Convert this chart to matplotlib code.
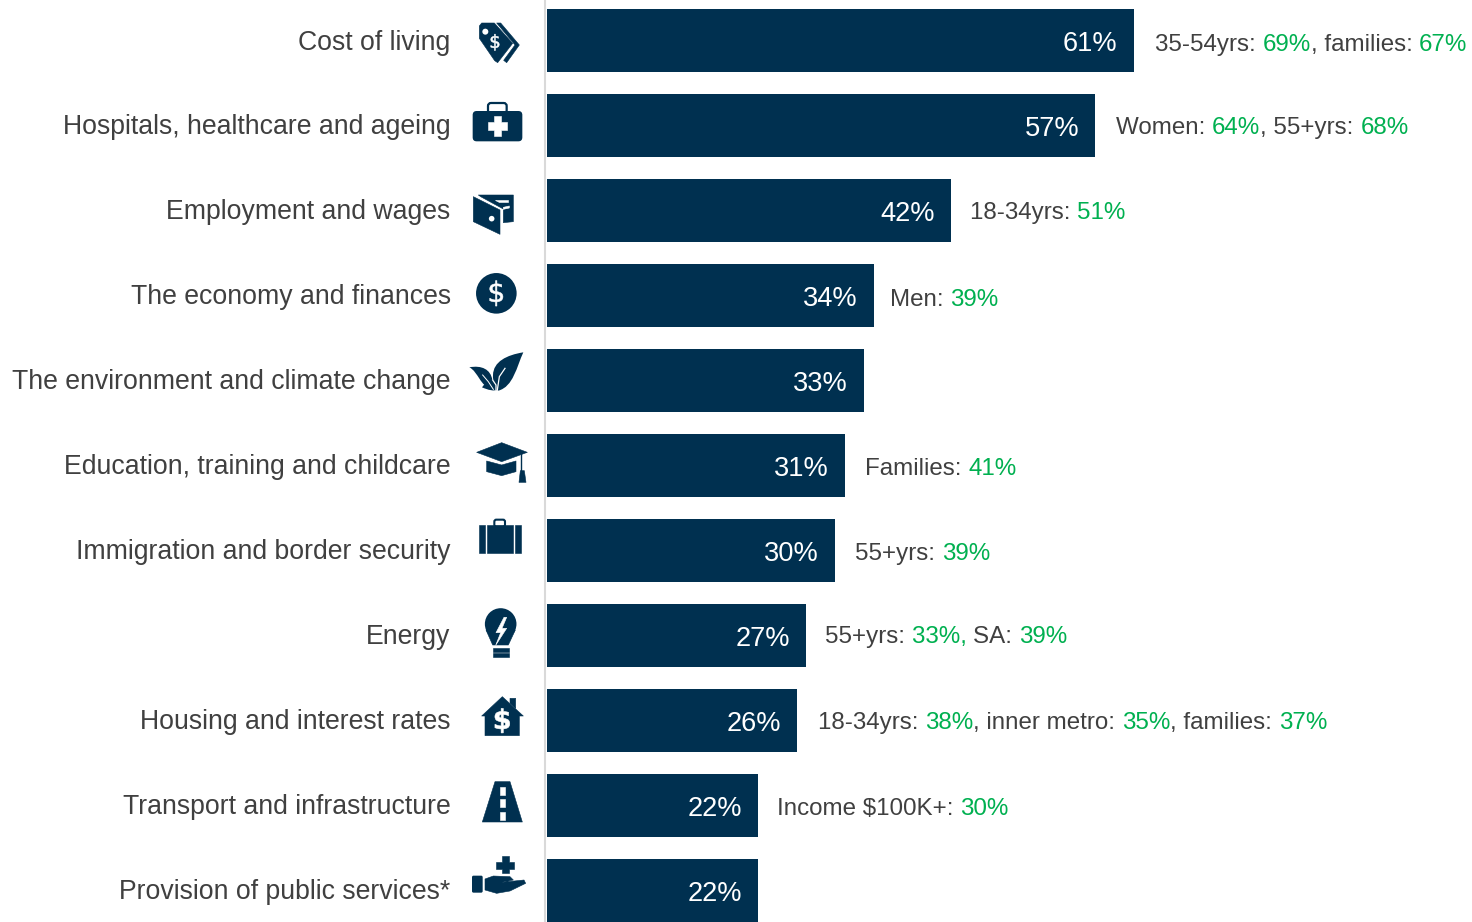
import matplotlib
matplotlib.use("Agg")
import matplotlib.pyplot as plt
from matplotlib.path import Path
from matplotlib.patches import PathPatch, Polygon, Circle, FancyBboxPatch
from matplotlib.textpath import TextPath
from matplotlib.font_manager import FontProperties
from matplotlib.transforms import Affine2D

plt.rcParams['font.family'] = ['Liberation Sans', 'DejaVu Sans']

categories = ["Cost of living", "Hospitals, healthcare and ageing", "Employment and wages",
              "The economy and finances", "The environment and climate change",
              "Education, training and childcare", "Immigration and border security",
              "Energy", "Housing and interest rates", "Transport and infrastructure",
              "Provision of public services*"]
values = [61, 57, 42, 34, 33, 31, 30, 27, 26, 22, 22]
notes = [
    [("35-54yrs: ", 0), ("69%", 1), (", families: ", 0), ("67%", 1)],
    [("Women: ", 0), ("64%", 1), (", 55+yrs: ", 0), ("68%", 1)],
    [("18-34yrs: ", 0), ("51%", 1)],
    [("Men: ", 0), ("39%", 1)],
    [],
    [("Families: ", 0), ("41%", 1)],
    [("55+yrs: ", 0), ("39%", 1)],
    [("55+yrs: ", 0), ("33%, ", 1), ("SA: ", 0), ("39%", 1)],
    [("18-34yrs: ", 0), ("38%", 1), (", inner metro: ", 0), ("35%", 1), (", families: ", 0), ("37%", 1)],
    [("Income $100K+: ", 0), ("30%", 1)],
    [],
]
note_x = [1155, 1116, 970, 890, 0, 865, 855, 825, 818, 777, 0]
note_y = [43, 126, 211, 298, 0, 467, 552, 635, 721, 807, 0]

NAVY = "#003050"
GREY = "#404040"
GREEN = "#00B050"
W, H = 1472, 922
X0 = 546.5
PX_PER_UNIT = 9.625
PITCH = 84.95
FIRST = 41.0

fig = plt.figure(figsize=(W / 100, H / 100), dpi=100, facecolor="white")
ax = fig.add_axes([X0 / W, 0, 1 - X0 / W, 1])
for s in ["top", "right", "bottom"]:
    ax.spines[s].set_visible(False)
ax.spines["left"].set_color("#D9D9D9")
ax.spines["left"].set_linewidth(1.5)
ax.spines["left"].set_position(("outward", 1.0))
ax.set_xlim(0, (W - X0) / PX_PER_UNIT)
ax.set_ylim((H - FIRST) / PITCH, -FIRST / PITCH)
pos = list(range(len(values)))
ax.barh(pos, values, height=63 / PITCH, color=NAVY)
ax.set_xticks([])
ax.set_yticks(pos)
ax.set_yticklabels(categories, fontsize=19.15, color=GREY)
ax.tick_params(axis='y', length=0, pad=68)
for lbl in ax.get_yticklabels():
    lbl.set_transform(lbl.get_transform() + Affine2D().translate(0, 1.5))
ax.patch.set_alpha(0)

for p, v in zip(pos, values):
    ax.annotate(f"{v}%", (v, p), xytext=(-11.6, -2.2), textcoords="offset points",
                ha="right", va="center", color="white", fontsize=19.6)

# overlay in pixel coordinates
ov = fig.add_axes([0, 0, 1, 1], zorder=5)
ov.set_xlim(0, W)
ov.set_ylim(H, 0)
ov.axis("off")

fig.canvas.draw()
rend = fig.canvas.get_renderer()
for segs, nx, ny in zip(notes, note_x, note_y):
    x = nx
    for s, g in segs:
        t = ov.text(x, ny + 2.2, s, fontsize=17.4, va="center", ha="left",
                    color=GREEN if g else GREY, parse_math=False)
        tw, _, _ = rend.get_text_width_height_descent(s, t.get_fontproperties(), False)
        x += tw

# ---------- icons (decorative, pixel geometry from crops) ----------
def Z(ox, oy):
    return lambda pts: [(460 + a / 3, oy + b / 3) for a, b in pts]

def poly(pts, color=NAVY):
    ov.add_patch(Polygon(pts, closed=True, fc=color, ec=color, lw=0.4, joinstyle="round"))

def circ(c, r, color=NAVY):
    ov.add_patch(Circle(c, r, fc=color, ec="none"))

def dollar(cx, cy, size, color="white", family="DejaVu Sans", weight="normal"):
    tp = TextPath((0, 0), r"\$", size=size, prop=FontProperties(family=family, weight=weight))
    bb = tp.get_extents()
    tr = Affine2D().translate(-(bb.x0 + bb.x1) / 2, -(bb.y0 + bb.y1) / 2).scale(1, -1).translate(cx, cy)
    ov.add_patch(PathPatch(tp.transformed(tr), fc=color, ec=color, lw=0.4))

def bezier(pts, color=NAVY):
    codes = [Path.MOVETO] + [Path.CURVE4] * (len(pts) - 1)
    ov.add_patch(PathPatch(Path(pts, codes), fc=color, ec="none"))

def line(pts, color="white", lw=1.0):
    ov.plot([p[0] for p in pts], [p[1] for p in pts], color=color, lw=lw, solid_capstyle="butt")

# tag
z = Z(460, 0)
poly(z([(58, 78), (65, 69), (103, 69), (158, 130), (113, 188), (104, 182), (58, 115)]))
poly(z([(110, 69), (122, 69), (178, 135), (140, 188), (131, 181), (165, 135)]))
circ(z([(76, 95)])[0], 3.0, "white")
dollar(*z([(105, 127)])[0], 18)

# medkit
a, b = z([(38, 333)])[0], z([(187, 424)])[0]
ov.add_patch(FancyBboxPatch((a[0] + 4, a[1] + 4), b[0] - a[0] - 8, b[1] - a[1] - 8,
                            boxstyle="round,pad=4", fc=NAVY, ec="none"))
a, b = z([(84, 309)])[0], z([(140, 340)])[0]
ov.add_patch(FancyBboxPatch((a[0] + 3, a[1] + 3), b[0] - a[0] - 6, b[1] - a[1] - 6,
                            boxstyle="round,pad=3", fc="none", ec=NAVY, lw=1.6))
poly(z([(101, 348), (124, 348), (124, 366), (140, 366), (140, 389), (124, 389), (124, 407),
        (101, 407), (101, 389), (85, 389), (85, 366), (101, 366)]), "white")

# wallet
poly(z([(55, 585), (160, 585), (160, 665), (130, 668), (130, 627), (62, 590)]))
poly(z([(105, 600), (145, 600), (145, 606), (117, 606)]), "white")
poly(z([(130, 622), (148, 618), (148, 624), (130, 628)]), "white")
poly(z([(40, 590), (120, 630), (120, 703), (40, 665)]))
circ(z([(95, 656)])[0], 2.8, "white")

# dollar circle
c = z([(109, 880)])[0]
circ(c, 20.3)
dollar(c[0], c[1], 28)

# leaf
z = Z(460, 330)
bezier(z([(190, 67), (140, 75), (100, 95), (99, 135), (98, 155), (105, 175), (115, 182),
          (160, 170), (170, 110), (190, 67)]))
bezier(z([(28, 112), (65, 105), (92, 118), (97, 150), (98, 162), (98, 170), (97, 178),
          (60, 170), (55, 125), (28, 112)]))
bezier(z([(66, 172), (90, 140), (110, 140), (120, 178), (100, 185), (85, 180), (66, 172)]))
ov.plot(*zip(*z([(68, 135), (85, 155), (100, 178)])), color="white", lw=0.7)
ov.plot(*zip(*z([(135, 115), (118, 140), (112, 180)])), color="white", lw=0.9)
ov.plot(*zip(*z([(98, 150), (108, 165), (108, 180)])), color="white", lw=0.9)

# mortarboard
poly(z([(50, 367), (125, 338), (202, 367), (125, 395)]))
poly(z([(80, 393), (125, 405), (168, 393), (168, 425), (125, 437), (80, 425)]))
line(z([(184, 370), (184, 425)]), NAVY, 1.0)
poly(z([(181, 422), (193, 422), (198, 457), (177, 457)]))

# briefcase
poly(z([(57, 585), (75, 585), (75, 670), (57, 670)]))
poly(z([(82, 585), (160, 585), (160, 670), (82, 670)]))
poly(z([(165, 585), (182, 585), (182, 670), (165, 670)]))
a, b = z([(103, 569)])[0], z([(135, 590)])[0]
ov.add_patch(FancyBboxPatch((a[0] + 2, a[1] + 2), b[0] - a[0] - 4, b[1] - a[1] - 4,
                            boxstyle="round,pad=2", fc="none", ec=NAVY, lw=1.5))

# bulb
c = z([(122, 882)])[0]
circ(c, 15.8)
poly(z([(78, 900), (166, 900), (145, 945), (98, 945)]))
poly(z([(132, 862), (108, 908), (122, 908), (107, 946), (140, 895), (126, 895), (140, 862)]), "white")
poly(z([(99, 954), (147, 954), (147, 965), (99, 965)]))
poly(z([(99, 970), (147, 970), (147, 981), (99, 981)]))

# house
z = Z(460, 680)
poly(z([(150, 55), (167, 55), (167, 85), (150, 70)]))
poly(z([(65, 108), (127, 50), (190, 108), (178, 108), (178, 167), (75, 167), (75, 108)]))
dollar(*z([(127, 122)])[0], 27, weight="bold")

# road
poly(z([(105, 305), (150, 305), (187, 426), (67, 426)]))
for y0, y1 in [(320, 345), (357, 382), (395, 420)]:
    poly(z([(119, y0), (135, y0), (135, y1), (119, y1)]), "white")

# hand
poly(z([(125, 528), (146, 528), (146, 545), (162, 545), (162, 567), (146, 567), (146, 580),
        (125, 580), (125, 567), (108, 567), (108, 545), (125, 545)]))
a, b = z([(36, 587)])[0], z([(68, 638)])[0]
ov.add_patch(FancyBboxPatch((a[0] + 1.5, a[1] + 1.5), b[0] - a[0] - 3, b[1] - a[1] - 3,
                            boxstyle="round,pad=1.5", fc=NAVY, ec="none"))
poly(z([(75, 597), (100, 588), (150, 590), (160, 600), (125, 607), (192, 600), (197, 610),
        (150, 633), (110, 640), (75, 630)]))

fig.savefig("out.png", dpi=100)
